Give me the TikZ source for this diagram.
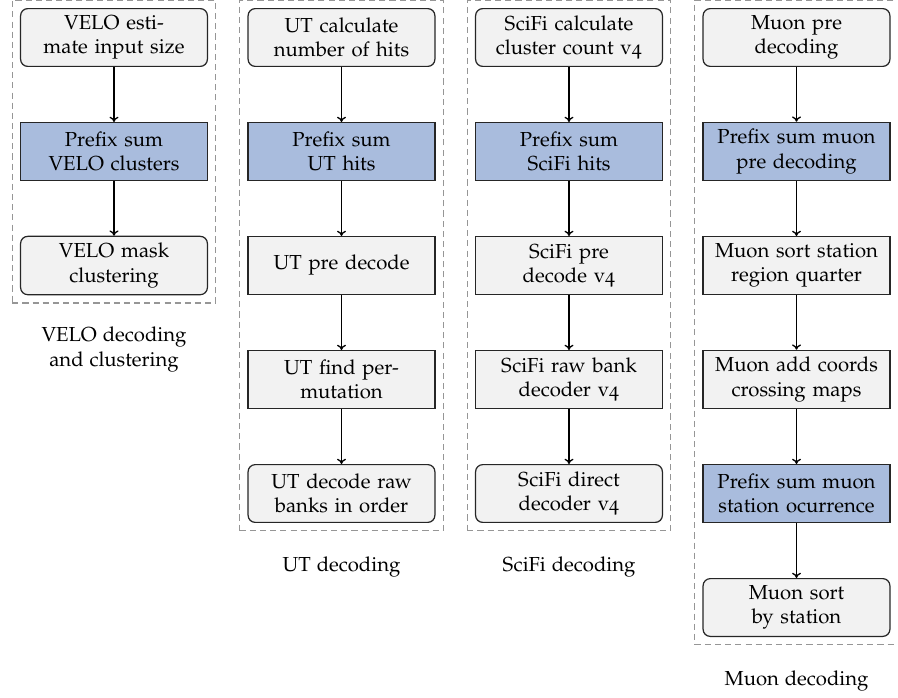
\documentclass[tikz,border=0pt]{standalone}
\usepackage[T1]{fontenc}
\usepackage[osf]{mathpazo}
\usetikzlibrary{arrows.meta,fit}

\definecolor{stepfill}{RGB}{242,242,242}
\definecolor{prefixfill}{RGB}{169,188,221}
\definecolor{framegray}{RGB}{150,150,150}

\tikzset{
  kernelbox/.style={draw=black!85, line width=0.6pt, text width=3cm, align=center,
                 minimum height=1cm, inner sep=0.3333em},
  endstep/.style={kernelbox, fill=stepfill, rounded corners=3.5pt},
  midstep/.style={kernelbox, fill=stepfill},
  sumstep/.style={kernelbox, fill=prefixfill},
  flow/.style={-{To[length=2.6pt,width=4.4pt]}, line width=0.65pt},
  groupframe/.style={draw=framegray, dash pattern=on 3pt off 2pt, line width=0.5pt,
                inner sep=3.8pt},
  grouplabel/.style={anchor=base, align=center, inner sep=0pt}
}

\begin{document}
\begin{tikzpicture}[x=0.4926pt,y=-0.4926pt]
\useasboundingbox (0,0) rectangle (898,697);

% VELO decoding and clustering
\node[endstep] (v1) at (114,37.5)  {VELO esti-\\mate input size};
\node[sumstep] (v2) at (114,151.5) {Prefix sum\\VELO clusters};
\node[endstep] (v3) at (114,265.5) {VELO mask\\clustering};
\draw[flow] (v1) -- (v2);
\draw[flow] (v2) -- (v3);
\node[groupframe, fit=(v1)(v3)] (vframe) {};
% two-line label: the base anchor sits on its last line
\node[grouplabel] (vlabel) at ([yshift=-30.8pt]vframe.south) {VELO decoding\\and clustering};

% UT decoding
\node[endstep] (u1) at (341.5,37.5)  {UT calculate\\number of hits};
\node[sumstep] (u2) at (341.5,151.5) {Prefix sum\\UT hits};
\node[midstep] (u3) at (341.5,265.5) {UT pre decode};
\node[midstep] (u4) at (341.5,379.5) {UT find per-\\mutation};
\node[endstep] (u5) at (341.5,493.5) {UT decode raw\\banks in order};
\draw[flow] (u1) -- (u2);
\draw[flow] (u2) -- (u3);
\draw[flow] (u3) -- (u4);
\draw[flow] (u4) -- (u5);
\node[groupframe, fit=(u1)(u5)] (uframe) {};
\node[grouplabel] (ulabel) at ([yshift=-20pt]uframe.south) {UT decoding};

% SciFi decoding
\node[endstep] (s1) at (569,37.5)  {SciFi calculate\\cluster count v4};
\node[sumstep] (s2) at (569,151.5) {Prefix sum\\SciFi hits};
\node[midstep] (s3) at (569,265.5) {SciFi pre\\decode v4};
\node[midstep] (s4) at (569,379.5) {SciFi raw bank\\decoder v4};
\node[endstep] (s5) at (569,493.5) {SciFi direct\\decoder v4};
\draw[flow] (s1) -- (s2);
\draw[flow] (s2) -- (s3);
\draw[flow] (s3) -- (s4);
\draw[flow] (s4) -- (s5);
\node[groupframe, fit=(s1)(s5)] (sframe) {};
\node[grouplabel] (slabel) at ([yshift=-20pt]sframe.south) {SciFi decoding};

% Muon decoding
\node[endstep] (m1) at (796.5,37.5)  {Muon pre\\decoding};
\node[sumstep] (m2) at (796.5,151.5) {Prefix sum muon\\pre decoding};
\node[midstep] (m3) at (796.5,265.5) {Muon sort station\\region quarter};
\node[midstep] (m4) at (796.5,379.5) {Muon add coords\\crossing maps};
\node[sumstep] (m5) at (796.5,493.5) {Prefix sum muon\\station ocurrence};
\node[endstep] (m6) at (796.5,607.5) {Muon sort\\by station};
\draw[flow] (m1) -- (m2);
\draw[flow] (m2) -- (m3);
\draw[flow] (m3) -- (m4);
\draw[flow] (m4) -- (m5);
\draw[flow] (m5) -- (m6);
\node[groupframe, fit=(m1)(m6)] (mframe) {};
\node[grouplabel] (mlabel) at ([yshift=-20pt]mframe.south) {Muon decoding};

\end{tikzpicture}
\end{document}
